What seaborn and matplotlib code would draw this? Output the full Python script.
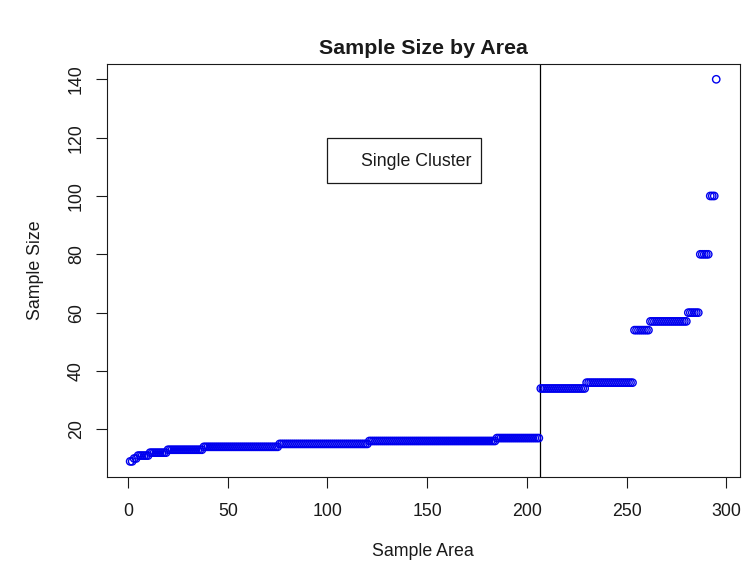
import numpy as np
import pandas as pd
import matplotlib
matplotlib.use("Agg")
import matplotlib.pyplot as plt
from matplotlib.patches import Rectangle
import seaborn as sns

# Sample sizes (sorted) and how many areas share each size
size_levels = [9, 10, 11, 12, 13, 14, 15, 16, 17, 34, 36, 54, 57, 60, 80, 100, 140]
area_counts = [2, 2, 6, 9, 18, 38, 45, 64, 22, 23, 24, 8, 19, 6, 5, 3, 1]
cluster_cut = 206.5
x_ticks = [0, 50, 100, 150, 200, 250, 300]
y_ticks = [20, 40, 60, 80, 100, 120, 140]

sizes = np.repeat(size_levels, area_counts)
df = pd.DataFrame({"area": np.arange(1, len(sizes) + 1), "size": sizes})

sns.set_theme(style="white")
plt.rcParams["font.family"] = ["Liberation Sans", "DejaVu Sans"]
ink = "#1a1a1a"

fig = plt.figure(figsize=(7.53, 5.65), dpi=100)
ax = fig.add_axes([0.1417, 0.1563, 0.9823 - 0.1417, 0.8867 - 0.1563])

sns.scatterplot(data=df, x="area", y="size", ax=ax, marker="o",
                facecolor="none", edgecolor="#0000ee", s=28, linewidth=1.0,
                legend=False, zorder=3)

ax.axvline(cluster_cut, color="black", lw=0.9, zorder=2)

# boxed annotation
ax.add_patch(Rectangle((99.6, 104.55), 176.9 - 99.6, 120.0 - 104.55,
                       fill=False, edgecolor=ink, lw=0.9, zorder=4))
ax.text(116.6, 111.8, "Single Cluster", fontsize=12.8, color=ink,
        va="center", ha="left", zorder=5)

ax.set_xlim(-10.76, 306.76)
ax.set_ylim(3.76, 145.24)
ax.set_xticks(x_ticks)
ax.set_yticks(y_ticks)
ax.set_xticklabels([str(t) for t in x_ticks])
ax.set_yticklabels([str(t) for t in y_ticks], rotation=90, va="center")
ax.tick_params(axis="both", direction="out", length=7.7, width=0.8,
               color=ink, labelsize=12.8, labelcolor=ink,
               bottom=True, left=True)
ax.tick_params(axis="x", pad=11)
ax.tick_params(axis="y", pad=8)
for sp in ax.spines.values():
    sp.set_color(ink)
    sp.set_linewidth(0.8)

ax.set_xlabel("Sample Area", fontsize=12.8, color=ink, labelpad=17)
ax.set_ylabel("Sample Size", fontsize=12.8, color=ink, labelpad=17)
fig.text(0.5617, 1 - 48 / 565, "Sample Size by Area", fontsize=15.4,
         fontweight="bold", color=ink, ha="center", va="center")

fig.savefig("out.png", dpi=100)
